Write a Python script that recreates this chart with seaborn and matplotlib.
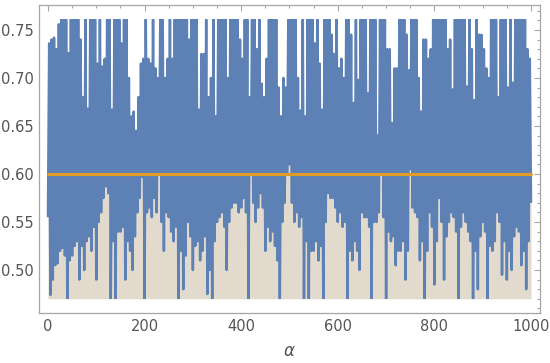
import numpy as np
import matplotlib
matplotlib.use('Agg')
import matplotlib.pyplot as plt
import seaborn as sns
from matplotlib.patches import Rectangle
from matplotlib.ticker import MultipleLocator, FormatStrFormatter

# Lower and upper turning points of the series
# (one low and one high every 5 units of alpha; 0.761 = top of plot range)
lows = [
    0.556, 0.474, 0.49, 0.505, 0.507, 0.52, 0.523, 0.515, 0.47, 0.51,
    0.515, 0.525, 0.53, 0.49, 0.525, 0.50, 0.53, 0.535, 0.52, 0.545,
    0.49, 0.55, 0.56, 0.575, 0.587, 0.58, 0.47, 0.53, 0.47, 0.54,
    0.54, 0.545, 0.49, 0.53, 0.52, 0.50, 0.535, 0.56, 0.575, 0.597,
    0.47, 0.56, 0.565, 0.555, 0.575, 0.56, 0.60, 0.55, 0.52, 0.56,
    0.555, 0.54, 0.53, 0.545, 0.47, 0.52, 0.48, 0.515, 0.55, 0.535,
    0.50, 0.525, 0.53, 0.51, 0.52, 0.535, 0.475, 0.50, 0.47, 0.53,
    0.55, 0.555, 0.56, 0.545, 0.50, 0.55, 0.565, 0.57, 0.57, 0.56,
    0.565, 0.575, 0.56, 0.47, 0.60, 0.57, 0.55, 0.565, 0.58, 0.565,
    0.52, 0.545, 0.53, 0.54, 0.525, 0.51, 0.47, 0.55, 0.57, 0.60,
    0.61, 0.57, 0.55, 0.56, 0.545, 0.555, 0.47, 0.53, 0.47, 0.52,
    0.52, 0.53, 0.51, 0.525, 0.47, 0.55, 0.58, 0.575, 0.575, 0.565,
    0.55, 0.56, 0.545, 0.55, 0.47, 0.52, 0.51, 0.53, 0.52, 0.50,
    0.56, 0.555, 0.555, 0.545, 0.47, 0.55, 0.55, 0.56, 0.60, 0.555,
    0.47, 0.54, 0.53, 0.535, 0.505, 0.52, 0.52, 0.53, 0.49, 0.52,
    0.605, 0.565, 0.56, 0.555, 0.51, 0.53, 0.47, 0.52, 0.56, 0.545,
    0.485, 0.53, 0.575, 0.55, 0.49, 0.535, 0.55, 0.56, 0.555, 0.54,
    0.47, 0.545, 0.56, 0.55, 0.54, 0.53, 0.47, 0.52, 0.48, 0.535,
    0.55, 0.54, 0.47, 0.525, 0.52, 0.53, 0.56, 0.55, 0.495, 0.53,
    0.49, 0.52, 0.50, 0.535, 0.545, 0.54, 0.505, 0.52, 0.48, 0.53,
]
highs = [
    0.736, 0.74, 0.742, 0.73, 0.756, 0.761, 0.761, 0.761, 0.726, 0.761,
    0.761, 0.761, 0.761, 0.74, 0.68, 0.761, 0.668, 0.761, 0.761, 0.761,
    0.715, 0.761, 0.712, 0.72, 0.761, 0.761, 0.667, 0.761, 0.761, 0.761,
    0.736, 0.761, 0.761, 0.70, 0.66, 0.665, 0.645, 0.68, 0.715, 0.72,
    0.761, 0.72, 0.715, 0.761, 0.71, 0.70, 0.761, 0.761, 0.70, 0.72,
    0.761, 0.72, 0.761, 0.761, 0.761, 0.761, 0.761, 0.761, 0.74, 0.761,
    0.761, 0.761, 0.667, 0.725, 0.725, 0.761, 0.68, 0.70, 0.761, 0.66,
    0.761, 0.761, 0.761, 0.761, 0.70, 0.761, 0.761, 0.761, 0.761, 0.74,
    0.72, 0.761, 0.761, 0.68, 0.761, 0.761, 0.73, 0.761, 0.694, 0.68,
    0.72, 0.761, 0.761, 0.761, 0.761, 0.69, 0.66, 0.70, 0.69, 0.761,
    0.761, 0.761, 0.761, 0.70, 0.666, 0.761, 0.66, 0.761, 0.761, 0.761,
    0.736, 0.761, 0.715, 0.667, 0.761, 0.761, 0.761, 0.745, 0.725, 0.761,
    0.71, 0.72, 0.70, 0.761, 0.761, 0.745, 0.674, 0.761, 0.698, 0.761,
    0.761, 0.761, 0.684, 0.761, 0.761, 0.761, 0.64, 0.761, 0.761, 0.761,
    0.73, 0.73, 0.653, 0.71, 0.71, 0.761, 0.761, 0.761, 0.745, 0.708,
    0.761, 0.761, 0.761, 0.70, 0.665, 0.74, 0.74, 0.72, 0.73, 0.761,
    0.761, 0.761, 0.761, 0.761, 0.761, 0.73, 0.74, 0.688, 0.761, 0.761,
    0.761, 0.761, 0.761, 0.691, 0.761, 0.73, 0.677, 0.761, 0.745, 0.745,
    0.73, 0.71, 0.70, 0.761, 0.761, 0.761, 0.68, 0.761, 0.761, 0.761,
    0.69, 0.761, 0.695, 0.761, 0.761, 0.761, 0.761, 0.761, 0.73, 0.72,
]
last_value = 0.571
threshold = 0.6
y_floor, y_ceil = 0.47, 0.761

# interleave low/high turning points along alpha = 0 .. 1000
values = []
for lo, hi in zip(lows, highs):
    values += [lo, hi]
values.append(last_value)
values = np.array(values)
alpha = np.linspace(0, 1000, len(values))

BLUE = "#5e81b5"
ORANGE = "#e19c24"
BEIGE = "#e2dbcd"
FRAME = "#a6a6a6"
TEXT = "#555555"

sns.set_style("white")
fig = plt.figure(figsize=(5.5, 3.63), dpi=100)
ax = fig.add_axes([0.0709, 0.1377, 0.9109, 0.8485])

ax.fill_between(alpha, values, y_floor, color=BEIGE, linewidth=0)
sns.lineplot(x=alpha, y=values, ax=ax, color=BLUE, linewidth=1.8,
             estimator=None, sort=False)
clip = Rectangle((-20, y_floor), 1040, y_ceil - y_floor, transform=ax.transData)
ax.lines[-1].set_clip_path(clip)
sns.lineplot(x=[0, 1000], y=[threshold, threshold], ax=ax, color=ORANGE,
             linewidth=2.2, estimator=None)

ax.set_xlim(-18.6, 1018.6)
ax.set_ylim(0.4552, 0.776)

ax.xaxis.set_major_locator(MultipleLocator(200))
ax.xaxis.set_minor_locator(MultipleLocator(50))
ax.yaxis.set_major_locator(MultipleLocator(0.05))
ax.yaxis.set_minor_locator(MultipleLocator(0.01))
ax.yaxis.set_major_formatter(FormatStrFormatter("%.2f"))

ax.tick_params(which="both", direction="in", top=True, right=True,
               color=FRAME, labelcolor=TEXT, labelsize=10.5, width=0.8)
ax.tick_params(which="major", length=4, pad=4)
ax.tick_params(which="minor", length=2.3)
for s in ax.spines.values():
    s.set_color(FRAME)
    s.set_linewidth(0.9)

ax.set_xlabel("α", style="italic", color=TEXT, fontsize=12, labelpad=6)
ax.set_ylabel("")

fig.savefig("out.png", dpi=100)
